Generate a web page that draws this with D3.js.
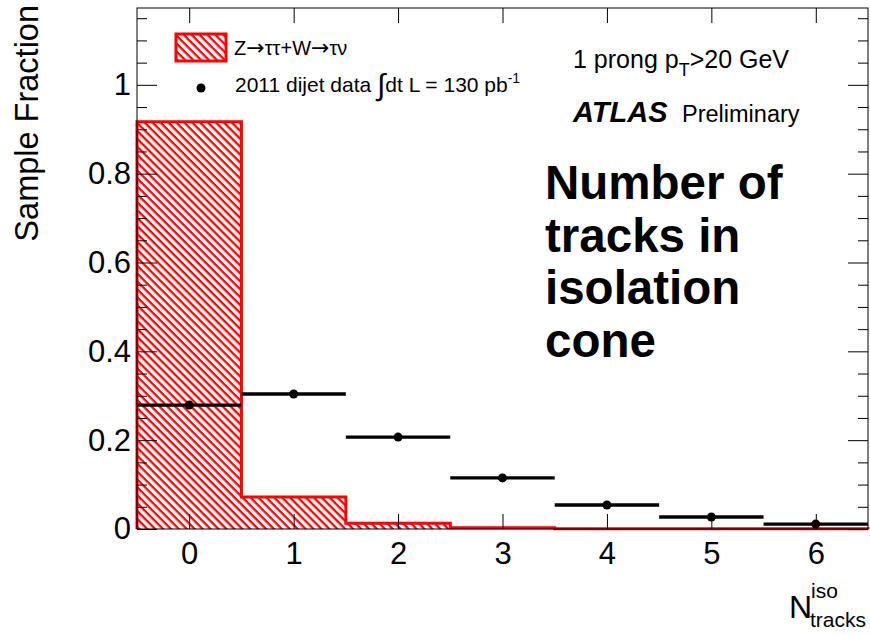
<!DOCTYPE html>
<html>
<head>
<meta charset="utf-8">
<script src="https://cdn.jsdelivr.net/npm/d3@7"></script>
<style>
  body { margin: 0; background: #fff; }
  svg { display: block; font-family: "Liberation Sans", Arial, Helvetica, sans-serif; }
</style>
</head>
<body>
<div id="vis"></div>
<script>
// values
const bins = [0, 1, 2, 3, 4, 5, 6];
const mcFraction = [0.917, 0.072, 0.013, 0.003, 0.0005, 0.0005, 0.0005];
const dataFraction = [0.279, 0.304, 0.207, 0.115, 0.054, 0.027, 0.011];
const yMajorTicks = [0, 0.2, 0.4, 0.6, 0.8, 1];
const yMinorTicks = d3.range(0.05, 1.16, 0.05).filter(v => Math.abs(v * 5 - Math.round(v * 5)) > 1e-6);
const textLines = ["Number of", "tracks in", "isolation", "cone"];

const W = 870, H = 635;
const margin = { top: 8, right: 2, bottom: 106, left: 137 };
const red = "#ff0000";

const svg = d3.select("#vis").append("svg")
  .attr("width", W)
  .attr("height", H);

const x = d3.scaleLinear().domain([-0.5, 6.5]).range([margin.left, W - margin.right]);
const y = d3.scaleLinear().domain([0, 1.173]).range([H - margin.bottom, margin.top]);

// hatch pattern
const defs = svg.append("defs");
const hatch = defs.append("pattern")
  .attr("id", "hatch")
  .attr("patternUnits", "userSpaceOnUse")
  .attr("width", 10)
  .attr("height", 5.6)
  .attr("patternTransform", "rotate(45)");
hatch.append("rect").attr("width", 10).attr("height", 5.6).attr("fill", "#fff");
hatch.append("rect").attr("width", 10).attr("height", 2.3).attr("fill", red);

// histogram (MC)
const histPts = [[-0.5, 0]];
bins.forEach((b, i) => {
  histPts.push([b - 0.5, mcFraction[i]]);
  histPts.push([b + 0.5, mcFraction[i]]);
});
histPts.push([6.5, 0]);

const histLine = d3.line().x(d => x(d[0])).y(d => y(d[1]));

svg.append("path")
  .datum(histPts)
  .attr("d", histLine)
  .attr("fill", "url(#hatch)")
  .attr("stroke", red)
  .attr("stroke-width", 3)
  .attr("stroke-linejoin", "miter");

// axes
const x0 = margin.left, x1 = W - margin.right;
const y0 = H - margin.bottom, y1 = margin.top;

function styleAxis(g) {
  g.select(".domain").remove();
  g.selectAll(".tick line").attr("stroke", "#000").attr("stroke-width", 1);
}

svg.append("g")
  .attr("transform", `translate(${x0},0)`)
  .call(d3.axisLeft(y).tickValues(yMajorTicks).tickSize(-20).tickPadding(6)
    .tickFormat(d => d === 0 || d === 1 ? d3.format("d")(d) : d3.format(".1f")(d)))
  .call(styleAxis)
  .call(g => g.selectAll("text").attr("font-size", 31).attr("font-family", null).attr("fill", "#000"));

svg.append("g")
  .attr("transform", `translate(${x0},0)`)
  .call(d3.axisLeft(y).tickValues(yMinorTicks).tickSize(-10).tickFormat(""))
  .call(styleAxis);

svg.append("g")
  .attr("transform", `translate(${x1},0)`)
  .call(d3.axisRight(y).tickValues(yMajorTicks).tickSize(-20).tickFormat(""))
  .call(styleAxis);

svg.append("g")
  .attr("transform", `translate(${x1},0)`)
  .call(d3.axisRight(y).tickValues(yMinorTicks).tickSize(-10).tickFormat(""))
  .call(styleAxis);

svg.append("g")
  .attr("transform", `translate(0,${y0})`)
  .call(d3.axisBottom(x).tickValues(bins).tickSize(-15).tickPadding(13).tickFormat(d3.format("d")))
  .call(styleAxis)
  .call(g => g.selectAll("text").attr("font-size", 31).attr("font-family", null).attr("fill", "#000"));

svg.append("g")
  .attr("transform", `translate(0,${y1})`)
  .call(d3.axisTop(x).tickValues(bins).tickSize(-15).tickFormat(""))
  .call(styleAxis);

svg.append("rect")
  .attr("x", x0).attr("y", y1)
  .attr("width", x1 - x0).attr("height", y0 - y1)
  .attr("fill", "none").attr("stroke", "#000").attr("stroke-width", 1);

// data points with horizontal bin-width bars
const dataG = svg.append("g");
dataG.selectAll("line.err")
  .data(bins)
  .join("line")
  .attr("class", "err")
  .attr("x1", d => x(d - 0.5))
  .attr("x2", d => x(d + 0.5))
  .attr("y1", (d, i) => y(dataFraction[i]))
  .attr("y2", (d, i) => y(dataFraction[i]))
  .attr("stroke", "#000")
  .attr("stroke-width", 3.3);

dataG.selectAll("circle")
  .data(bins)
  .join("circle")
  .attr("cx", d => x(d))
  .attr("cy", (d, i) => y(dataFraction[i]))
  .attr("r", 4.5)
  .attr("fill", "#000");

// legend
svg.append("rect")
  .attr("x", 176).attr("y", 34)
  .attr("width", 50).attr("height", 27)
  .attr("fill", "url(#hatch)")
  .attr("stroke", red).attr("stroke-width", 3);

const l1 = svg.append("text").attr("x", 234).attr("y", 55).attr("font-size", 20);
l1.append("tspan").text("Z");
l1.append("tspan").attr("font-family", "DejaVu Sans").attr("font-size", 22).text("\u2192");
l1.append("tspan").text("\u03c4\u03c4+W");
l1.append("tspan").attr("font-family", "DejaVu Sans").attr("font-size", 22).text("\u2192");
l1.append("tspan").text("\u03c4\u03bd");

svg.append("circle").attr("cx", 201).attr("cy", 88).attr("r", 4.5).attr("fill", "#000");

const lt = svg.append("text").attr("x", 235).attr("y", 92).attr("font-size", 21);
lt.append("tspan").text("2011 dijet data ");
lt.append("tspan").attr("font-size", 30).attr("dy", 3).text("\u222b");
lt.append("tspan").attr("dy", -3).text("dt L = 130 pb");
lt.append("tspan").attr("font-size", 14).attr("dy", -9).text("-1");

// labels top right
const pt = svg.append("text").attr("x", 573).attr("y", 68).attr("font-size", 25);
pt.append("tspan").text("1 prong p");
pt.append("tspan").attr("font-size", 18).attr("dy", 8).text("T");
pt.append("tspan").attr("dy", -8).text(">20 GeV");

svg.append("text")
  .attr("x", 573).attr("y", 122)
  .attr("font-size", 29)
  .attr("font-weight", "bold")
  .attr("font-style", "italic")
  .text("ATLAS");

svg.append("text")
  .attr("x", 682).attr("y", 122)
  .attr("font-size", 23.5)
  .text("Preliminary");

svg.append("g")
  .selectAll("text")
  .data(textLines)
  .join("text")
  .attr("x", 545)
  .attr("y", (d, i) => 199 + i * 52.5)
  .attr("font-size", 47.5)
  .attr("font-weight", "bold")
  .text(d => d);

// axis titles
svg.append("text")
  .attr("transform", "translate(38,5) rotate(-90)")
  .attr("text-anchor", "end")
  .attr("font-size", 32.5)
  .text("Sample Fraction");

const xt = svg.append("g");
xt.append("text").attr("x", 789).attr("y", 618).attr("font-size", 32).text("N");
xt.append("text").attr("x", 811).attr("y", 598).attr("font-size", 21).text("iso");
xt.append("text").attr("x", 810).attr("y", 627).attr("font-size", 21).text("tracks");
</script>
</body>
</html>
